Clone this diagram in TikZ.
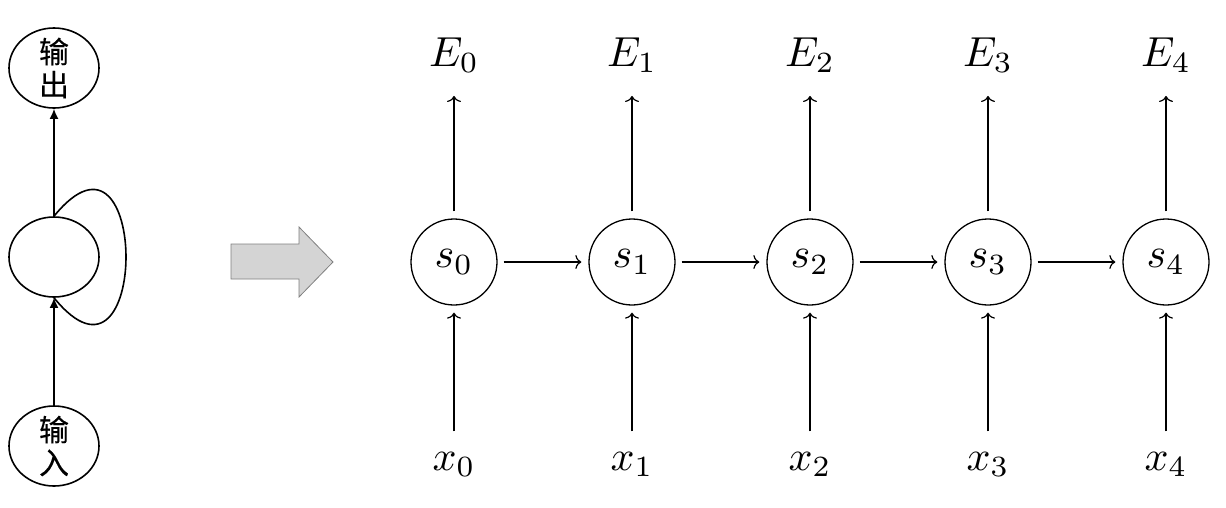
\documentclass[tikz,border=0pt]{standalone}
\usepackage{fontspec}
\newfontfamily\cjk{Noto Sans CJK SC}[FakeBold=0.3]
\usepackage{xcolor}
\definecolor{d4d4d4}{HTML}{d4d4d4}
\usepackage{graphicx}
\usepackage{tikz}
\usetikzlibrary{shapes.geometric}
\usetikzlibrary{arrows.meta}
\newcommand{\enlarged}[1]{\scalebox{4.2}{#1}}

\begin{document}
\begin{tikzpicture}[x=1pt, y=-1pt, line width=1.3pt,
            blob/.style={draw, ellipse, line width=1.6pt, minimum width=90pt, minimum height=80pt, inner xsep=0pt, inner ysep=-6pt, align=center, font=\cjk\fontsize{30pt}{33pt}\selectfont},
            feed/.style={-{Latex[length=10pt,width=9pt]}, line width=1.6pt},
            state/.style={draw, circle, minimum size=86pt, inner sep=0pt},
            tag/.style={anchor=base, inner sep=0pt},
            flow/.style={-{To[length=6pt,width=14pt]}, line width=1.2pt},
            emit/.style={flow, shorten <=7pt, shorten >=23pt},
            take/.style={flow, shorten <=20pt, shorten >=7pt},
            pass/.style={flow, shorten <=6pt, shorten >=7pt}]
            \useasboundingbox (0, 0) rectangle (1226, 507);

            % folded net
            \node[blob] (outp) at (54, 68) {输\\出};
            \node[blob] (hid) at (54, 257) {};
            \node[blob] (inp) at (54, 446) {输\\入};

            \draw[feed] (hid.north) -- (outp.south);
            \draw[feed] (inp.north) -- (hid.south);
            \draw[line width=1.6pt] (hid.north) .. controls +(96, -118) and +(96, 118) .. (hid.south);

            % unfold arrow
            \draw[draw=gray, fill=d4d4d4, line width=0.8pt] (231, 244) -- (299, 244) -- (299, 227) -- (333, 262) -- (299, 297) -- (299, 279) -- (231, 279) -- cycle;

            % unfolded net
            \node[state] (s0) at (454, 262) {\enlarged{$s_0$}};
            \node[state] (s1) at (632, 262) {\enlarged{$s_1$}};
            \node[state] (s2) at (810, 262) {\enlarged{$s_2$}};
            \node[state] (s3) at (988, 262) {\enlarged{$s_3$}};
            \node[state] (s4) at (1166, 262) {\enlarged{$s_4$}};

            \node[tag] (E0) at (454, 66) {\enlarged{$E_0$}};
            \node[tag] (E1) at (632, 66) {\enlarged{$E_1$}};
            \node[tag] (E2) at (810, 66) {\enlarged{$E_2$}};
            \node[tag] (E3) at (988, 66) {\enlarged{$E_3$}};
            \node[tag] (E4) at (1166, 66) {\enlarged{$E_4$}};

            \node[tag] (x0) at (454, 470) {\enlarged{$x_0$}};
            \node[tag] (x1) at (632, 470) {\enlarged{$x_1$}};
            \node[tag] (x2) at (810, 470) {\enlarged{$x_2$}};
            \node[tag] (x3) at (988, 470) {\enlarged{$x_3$}};
            \node[tag] (x4) at (1166, 470) {\enlarged{$x_4$}};

            \draw[emit] (s0.north) -- (E0.south);
            \draw[emit] (s1.north) -- (E1.south);
            \draw[emit] (s2.north) -- (E2.south);
            \draw[emit] (s3.north) -- (E3.south);
            \draw[emit] (s4.north) -- (E4.south);

            \draw[take] (x0.north) -- (s0.south);
            \draw[take] (x1.north) -- (s1.south);
            \draw[take] (x2.north) -- (s2.south);
            \draw[take] (x3.north) -- (s3.south);
            \draw[take] (x4.north) -- (s4.south);

            \draw[pass] (s0.east) -- (s1.west);
            \draw[pass] (s1.east) -- (s2.west);
            \draw[pass] (s2.east) -- (s3.west);
            \draw[pass] (s3.east) -- (s4.west);
        \end{tikzpicture}
\end{document}
